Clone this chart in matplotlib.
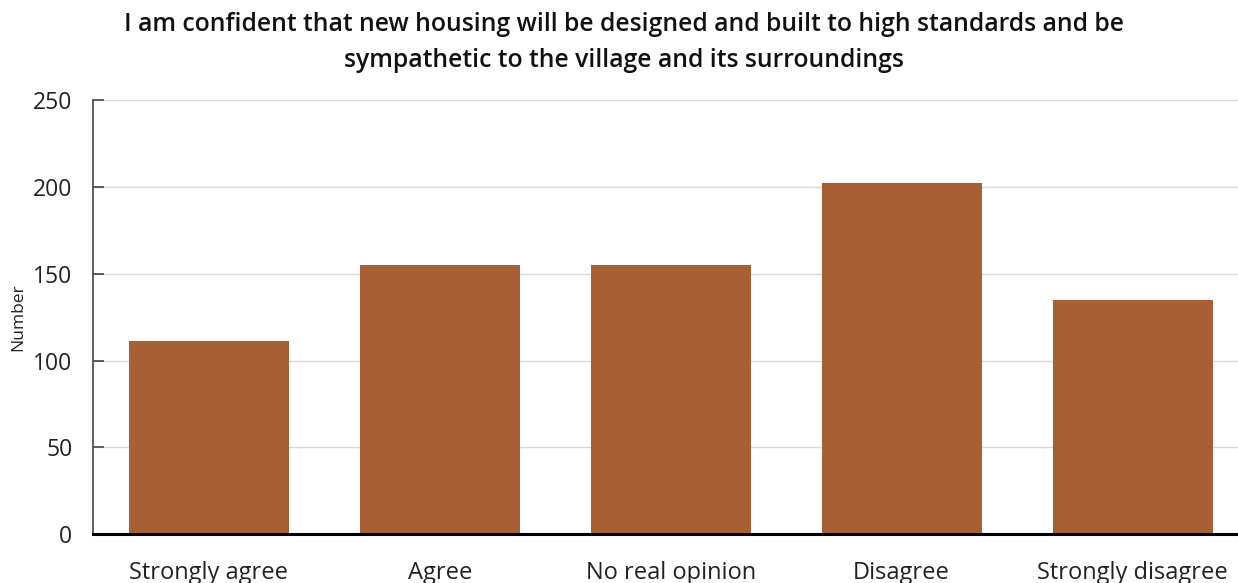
import numpy as np
import matplotlib
matplotlib.use('Agg')
from matplotlib import pyplot as plt

plt.rcParams['font.family'] = ['Open Sans', 'DejaVu Sans']

categories = ['Strongly agree', 'Agree', 'No real opinion', 'Disagree', 'Strongly disagree']
counts = [111, 155, 155, 202, 135]
yticks = [0, 50, 100, 150, 200, 250]

title = ('I am confident that new housing will be designed and built to high standards and be\n'
         'sympathetic to the village and its surroundings')

fig = plt.figure(figsize=(12.38, 5.83), dpi=100)
ax = fig.add_axes([93.3/1238, 1 - 534.3/583, (1248 - 93.3)/1238, 434.3/583])

x = np.arange(len(categories))
ax.bar(x, counts, width=0.693, color='#a95f36', zorder=3)

ax.set_xlim(-0.5, len(categories) - 0.5)
ax.set_ylim(0, 250)
ax.set_yticks(yticks)
ax.set_xticks(x)
ax.set_xticklabels(categories, fontsize=17)
ax.tick_params(axis='x', length=0, pad=19, colors='#222222')
ax.tick_params(axis='y', direction='in', length=8, width=1.2, color='#444444',
               labelsize=16.5, pad=15, labelcolor='#222222')
ax.yaxis.grid(True, color='#d9d9d9', linewidth=1, zorder=0)
ax.set_axisbelow(True)

for side in ['top', 'right']:
    ax.spines[side].set_visible(False)
ax.spines['left'].set_color('#444444')
ax.spines['left'].set_linewidth(1.2)
ax.spines['bottom'].set_color('black')
ax.spines['bottom'].set_linewidth(2.2)
ax.spines['bottom'].set_zorder(4)

# y label placed by hand so it sits inside the left margin
fig.text(18/1238, 1 - 317/583, 'Number', rotation=90, ha='center', va='center',
         fontsize=12.5, color='#222222')

fig.text(0.504, 1 - 12/583, title, ha='center', va='top', fontsize=17.8,
         fontweight='semibold', linespacing=1.6, color='#111111')

fig.savefig('out.png', dpi=100)
plt.close('all')
